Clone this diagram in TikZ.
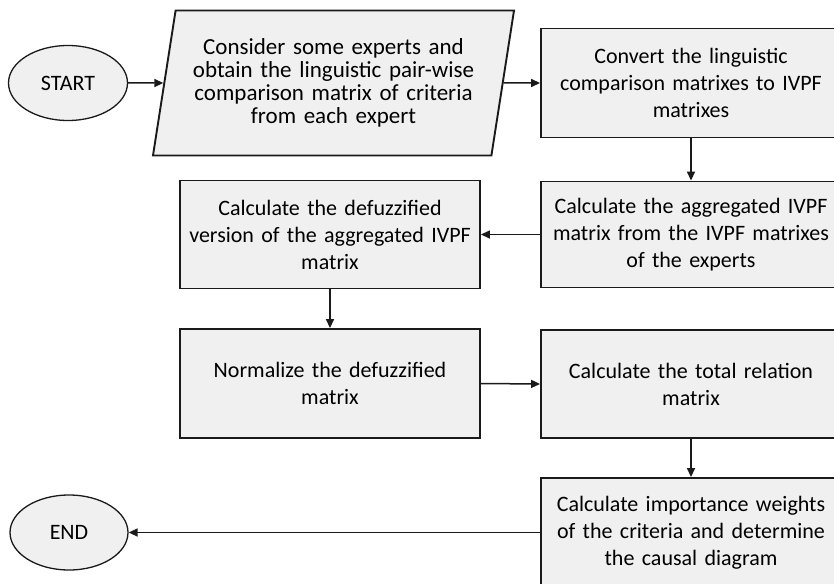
\documentclass[tikz,border=0pt]{standalone}
\usepackage{fontspec}
\setmainfont{Carlito}
\usetikzlibrary{shapes.geometric,arrows.meta}
\definecolor{boxfill}{HTML}{F0F0F0}
\definecolor{edge}{HTML}{1A1A1A}
\begin{document}
\begin{tikzpicture}[x=1pt,y=-1pt,
  procbox/.style={draw=edge, fill=boxfill, line width=1.9pt, minimum width=300pt, minimum height=108pt, text width=290pt, align=center, inner sep=0pt, font=\fontsize{22}{27}\selectfont},
  para/.style={draw=edge, fill=boxfill, line width=1.9pt, trapezium, trapezium left angle=75.7, trapezium right angle=104.3, trapezium stretches body, minimum width=361pt, minimum height=145pt, text width=290pt, align=center, inner sep=0pt, font=\fontsize{23}{23}\selectfont},
  term/.style={draw=edge, fill=boxfill, line width=1.3pt, ellipse, minimum width=119pt, minimum height=75pt, inner sep=0pt, font=\fontsize{22}{27}\selectfont},
  conn/.style={draw=edge, line width=1.5pt, -{Triangle[length=9pt,width=8pt]}}
]
\useasboundingbox (0,0) rectangle (834,583);
\clip (0,0) rectangle (834,583);
\fill[white] (0,0) rectangle (834,583);

\node[term] (start) at (68,83) {START};
\node[para] (input) at (333.5,83) {Consider some experts and\\obtain the linguistic pair-wise\\comparison matrix of criteria\\from each expert};
\node[procbox, minimum height=109pt] (convert) at (691,83) {Convert the linguistic\\comparison matrixes to IVPF\\matrixes};
\node[procbox, minimum height=106pt] (aggr) at (691,234.5) {Calculate the aggregated IVPF\\matrix from the IVPF matrixes\\of the experts};
\node[procbox] (defuzz) at (330,234.5) {Calculate the defuzzified\\version of the aggregated IVPF\\matrix};
\node[procbox, minimum height=109pt] (norm) at (330,383.5) {Normalize the defuzzified\\matrix};
\node[procbox] (total) at (691,384) {Calculate the total relation\\matrix};
\node[procbox, minimum height=109pt] (weights) at (691,532.5) {Calculate importance weights\\of the criteria and determine\\the causal diagram};
\node[term, minimum width=118pt] (end) at (69,532.5) {END};

\draw[conn] (start.east) -- (input.west);
\draw[conn] (input.east) -- (convert.west);
\draw[conn] (convert.south) -- (aggr.north);
\draw[conn] (aggr.west) -- (defuzz.east);
\draw[conn] (defuzz.south) -- (norm.north);
\draw[conn] (norm.east) -- (total.west);
\draw[conn] (total.south) -- (weights.north);
\draw[conn] (weights.west) -- (end.east);
\end{tikzpicture}
\end{document}
